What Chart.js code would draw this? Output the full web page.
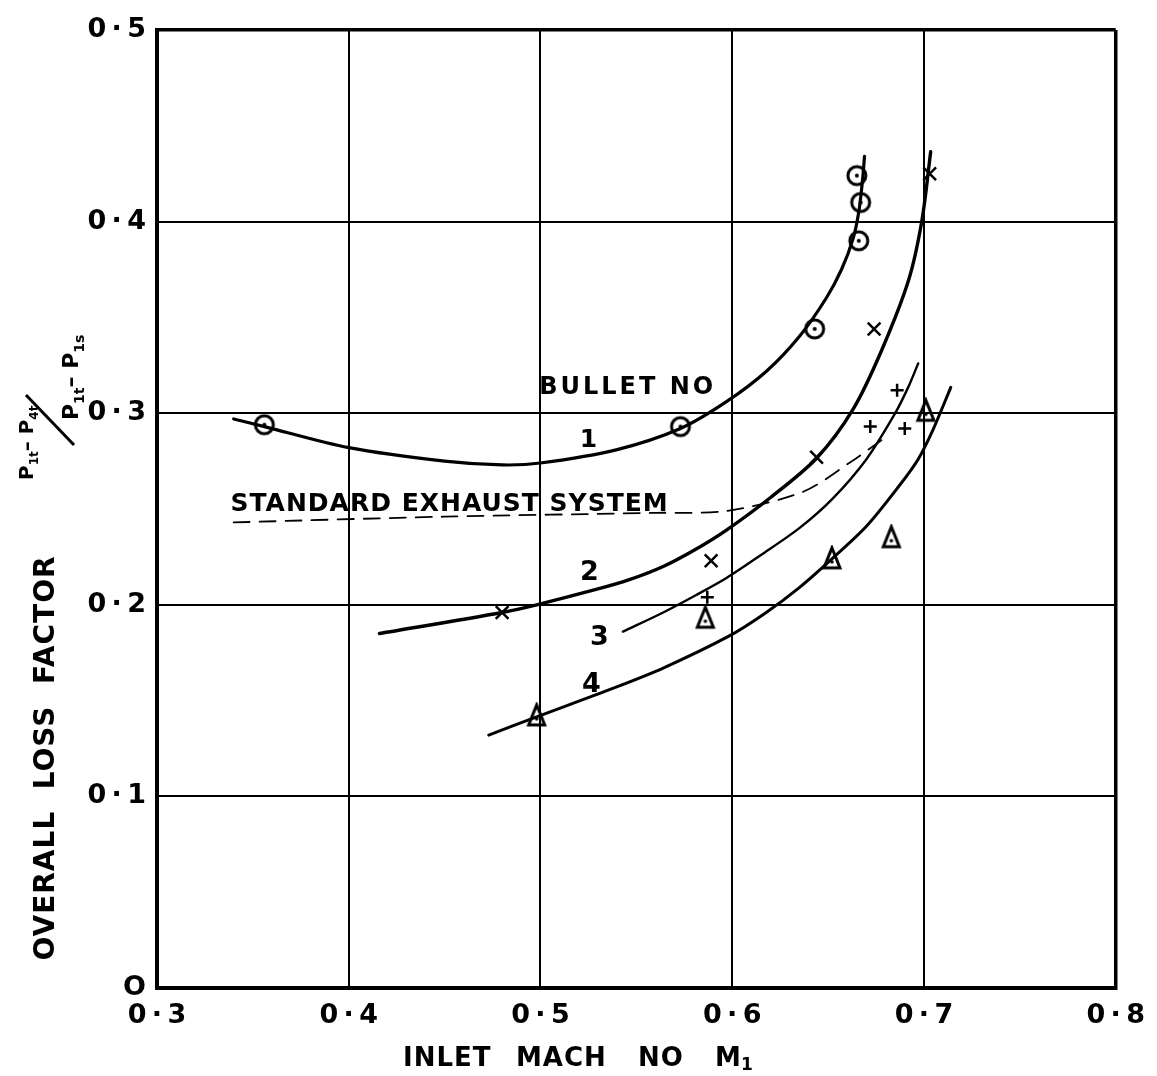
<!DOCTYPE html>
<html>
<head>
<meta charset="utf-8">
<script src="https://cdn.jsdelivr.net/npm/chart.js@4"></script>
<style>
  html, body { margin: 0; padding: 0; background: #fff; }
  #wrap { width: 1157px; height: 1076px; }
</style>
</head>
<body>
<div id="wrap"><canvas id="lossChart"></canvas></div>
<script>
//! Les données.

// Points mesurés, bullet 1 (cercles)
const bullet1X = [0.356, 0.573, 0.643, 0.666, 0.667, 0.665];
const bullet1Y = [0.294, 0.293, 0.344, 0.390, 0.410, 0.424];

// Points mesurés, bullet 2 (croix x)
const bullet2X = [0.480, 0.589, 0.644, 0.674, 0.703];
const bullet2Y = [0.196, 0.223, 0.277, 0.344, 0.425];

// Points mesurés, bullet 3 (croix +)
const bullet3X = [0.587, 0.672, 0.686, 0.690];
const bullet3Y = [0.204, 0.293, 0.312, 0.292];

// Points mesurés, bullet 4 (triangles)
const bullet4X = [0.498, 0.586, 0.652, 0.683, 0.701];
const bullet4Y = [0.142, 0.193, 0.224, 0.235, 0.301];

// Courbes tracées à la main
const curve1X = [0.340, 0.356, 0.400, 0.450, 0.480, 0.500, 0.540, 0.573, 0.597, 0.618, 0.635, 0.649, 0.657, 0.663, 0.666, 0.668, 0.669];
const curve1Y = [0.297, 0.293, 0.282, 0.275, 0.273, 0.274, 0.281, 0.292, 0.306, 0.322, 0.340, 0.360, 0.375, 0.391, 0.405, 0.422, 0.434];

const curve2X = [0.416, 0.480, 0.498, 0.529, 0.546, 0.564, 0.581, 0.597, 0.620, 0.644, 0.663, 0.678, 0.692, 0.699, 0.7035];
const curve2Y = [0.185, 0.196, 0.200, 0.208, 0.213, 0.220, 0.229, 0.239, 0.256, 0.2765, 0.302, 0.333, 0.3695, 0.401, 0.4365];

const curve3X = [0.543, 0.564, 0.581, 0.597, 0.615, 0.635, 0.652, 0.670, 0.685, 0.692, 0.697];
const curve3Y = [0.186, 0.196, 0.205, 0.214, 0.226, 0.240, 0.255, 0.276, 0.300, 0.314, 0.326];

const curve4X = [0.473, 0.498, 0.538, 0.564, 0.598, 0.617, 0.635, 0.652, 0.670, 0.687, 0.697, 0.705, 0.714];
const curve4Y = [0.132, 0.1415, 0.1565, 0.167, 0.1835, 0.1955, 0.209, 0.224, 0.241, 0.262, 0.276, 0.292, 0.3135];

// Système d'échappement standard (pointillés)
const standardX = [0.340, 0.450, 0.560, 0.597, 0.637, 0.661, 0.678];
const standardY = [0.243, 0.246, 0.248, 0.249, 0.259, 0.274, 0.286];

// Graduations
const xTickLabels = ['0\u2009·\u20093', '0\u2009·\u20094', '0\u2009·\u20095', '0\u2009·\u20096', '0\u2009·\u20097', '0\u2009·\u20098'];
const yTickLabels = ['O', '0\u2009·\u20091', '0\u2009·\u20092', '0\u2009·\u20093', '0\u2009·\u20094', '0\u2009·\u20095'];

// Textes dans le graphique
const plotNotes = [
    { text: 'BULLET NO', x: 0.5455, y: 0.3135, size: 24, spacing: 3 },
    { text: '1', x: 0.525, y: 0.286, size: 25, spacing: 0 },
    { text: '2', x: 0.5255, y: 0.2166, size: 27, spacing: 0 },
    { text: '3', x: 0.5307, y: 0.1827, size: 27, spacing: 0 },
    { text: '4', x: 0.5266, y: 0.158, size: 27, spacing: 0 },
    { text: 'STANDARD EXHAUST SYSTEM', x: 0.4526, y: 0.2525, size: 25, spacing: 1 },
];

//! --------------------------------------------------

//? Fabrication des marqueurs.

const makeMarker = (kind) => {
    const c = document.createElement('canvas');
    c.width = 28;
    c.height = 28;
    const g = c.getContext('2d');
    g.strokeStyle = '#000';
    g.fillStyle = '#000';
    g.lineWidth = 3;
    if (kind === 'circle') {
        g.beginPath();
        g.arc(14, 14, 9, 0, Math.PI * 2);
        g.stroke();
        g.beginPath();
        g.arc(14, 14, 2, 0, Math.PI * 2);
        g.fill();
    } else {
        g.lineJoin = 'miter';
        g.beginPath();
        g.moveTo(14, 3);
        g.lineTo(22, 23);
        g.lineTo(6, 23);
        g.closePath();
        g.stroke();
        g.beginPath();
        g.arc(14, 17, 1.8, 0, Math.PI * 2);
        g.fill();
    }
    return c;
};

const circleMarker = makeMarker('circle');
const triangleMarker = makeMarker('triangle');

const toPoints = (xs, ys) => xs.map((x, i) => ({ x: x, y: ys[i] }));

const curveDataset = (xs, ys, width, dash) => ({
    data: toPoints(xs, ys),
    showLine: true,
    borderColor: '#000',
    borderWidth: width,
    borderDash: dash || [],
    borderCapStyle: 'round',
    pointRadius: 0,
    tension: 0.3,
    fill: false,
});

const pointDataset = (xs, ys, style, radius, width) => ({
    data: toPoints(xs, ys),
    showLine: false,
    pointStyle: style,
    pointRadius: radius,
    borderColor: '#000',
    backgroundColor: '#000',
    borderWidth: width,
});

//? -------------------------------------------------

//? Textes : titres d'axes, formule, annotations.

const drawSubText = (ctx, parts, size) => {
    // parts : [texte, est-ce un indice]
    let u = 0;
    parts.forEach(([txt, sub]) => {
        ctx.font = 'bold ' + (sub ? Math.round(size * 0.62) : size) + 'px "DejaVu Sans"';
        ctx.fillText(txt, u, sub ? size * 0.25 : 0);
        u += ctx.measureText(txt).width;
    });
};

const textPlugin = {
    id: 'textPlugin',
    afterDraw(chart) {
        const ctx = chart.ctx;
        const xs = chart.scales.x;
        const ys = chart.scales.y;
        ctx.save();
        ctx.fillStyle = '#000';
        ctx.strokeStyle = '#000';

        // annotations dans la zone du graphique
        ctx.textAlign = 'center';
        ctx.textBaseline = 'middle';
        plotNotes.forEach((n) => {
            ctx.font = 'bold ' + n.size + 'px "DejaVu Sans"';
            ctx.letterSpacing = n.spacing + 'px';
            ctx.fillText(n.text, xs.getPixelForValue(n.x), ys.getPixelForValue(n.y));
        });

        // titre axe x
        ctx.textAlign = 'left';
        ctx.letterSpacing = '1px';
        ctx.font = 'bold 26px "DejaVu Sans"';
        ctx.fillText('INLET', 403, 1059);
        ctx.fillText('MACH', 516, 1059);
        ctx.fillText('NO', 638, 1059);
        ctx.fillText('M', 715, 1059);
        ctx.font = 'bold 17px "DejaVu Sans"';
        ctx.fillText('1', 741, 1066);

        // titre axe y (tourné)
        ctx.save();
        ctx.translate(47, 758);
        ctx.rotate(-Math.PI / 2);
        ctx.textAlign = 'center';
        ctx.font = 'bold 28px "DejaVu Sans"';
        ctx.letterSpacing = '1px';
        ctx.fillText('OVERALL  LOSS  FACTOR', 0, 0);
        ctx.restore();

        // formule : numérateur, barre, dénominateur
        ctx.save();
        ctx.translate(0, 476);
        ctx.rotate(-Math.PI / 2);
        ctx.textAlign = 'left';
        ctx.textBaseline = 'alphabetic';
        ctx.letterSpacing = '0px';
        ctx.save();
        ctx.translate(-4, 33);
        drawSubText(ctx, [['P', 0], ['1t', 1], ['– P', 0], ['4t', 1]], 20);
        ctx.restore();
        ctx.lineWidth = 3;
        ctx.beginPath();
        ctx.moveTo(31, 74);
        ctx.lineTo(81, 26);
        ctx.stroke();
        ctx.save();
        ctx.translate(56, 78);
        drawSubText(ctx, [['P', 0], ['1t', 1], ['– P', 0], ['1s', 1]], 22);
        ctx.restore();
        ctx.restore();

        ctx.restore();
    },
};

//? -------------------------------------------------

//? Construction du graphique.

const edgeWidth = (ctx) => (ctx.index === 0 || ctx.index === 5 ? 3.5 : 2);

const ctxLoss = document.getElementById('lossChart').getContext('2d');

new Chart(ctxLoss, {
    type: 'scatter',
    data: {
        datasets: [
            curveDataset(curve1X, curve1Y, 3.2),
            curveDataset(curve2X, curve2Y, 3.4),
            curveDataset(curve3X, curve3Y, 2.4),
            curveDataset(curve4X, curve4Y, 3),
            curveDataset(standardX, standardY, 1.8, [16, 10]),
            pointDataset(bullet1X, bullet1Y, circleMarker, 10, 2),
            pointDataset(bullet2X, bullet2Y, 'crossRot', 9, 2.5),
            pointDataset(bullet3X, bullet3Y, 'cross', 6.5, 2.5),
            pointDataset(bullet4X, bullet4Y, triangleMarker, 10, 2),
        ],
    },
    options: {
        responsive: true,
        maintainAspectRatio: false,
        animation: { duration: 0 },
        layout: { padding: { left: 0, right: 41, top: 30, bottom: 0 } },
        plugins: {
            legend: { display: false },
            tooltip: { enabled: false },
        },
        scales: {
            x: {
                type: 'linear',
                min: 0.3,
                max: 0.8,
                afterFit: (scale) => { scale.height = 88; },
                afterBuildTicks: (scale) => {
                    scale.ticks = xTickLabels.map((t, i) => ({ value: 0.3 + i * 0.1 }));
                },
                ticks: {
                    padding: 12,
                    color: '#000',
                    font: { family: 'DejaVu Sans', size: 27, weight: 'bold' },
                    callback: (value, index) => xTickLabels[index],
                },
                grid: { color: '#000', lineWidth: edgeWidth, drawTicks: false },
                border: { color: '#000', width: 4 },
            },
            y: {
                type: 'linear',
                min: 0,
                max: 0.5,
                afterFit: (scale) => { scale.width = 157; },
                afterBuildTicks: (scale) => {
                    scale.ticks = yTickLabels.map((t, i) => ({ value: i * 0.1 }));
                },
                ticks: {
                    padding: 11,
                    color: '#000',
                    font: { family: 'DejaVu Sans', size: 27, weight: 'bold' },
                    callback: (value, index) => yTickLabels[index],
                },
                grid: { color: '#000', lineWidth: edgeWidth, drawTicks: false },
                border: { color: '#000', width: 4 },
            },
        },
    },
    plugins: [textPlugin],
});
</script>
</body>
</html>
